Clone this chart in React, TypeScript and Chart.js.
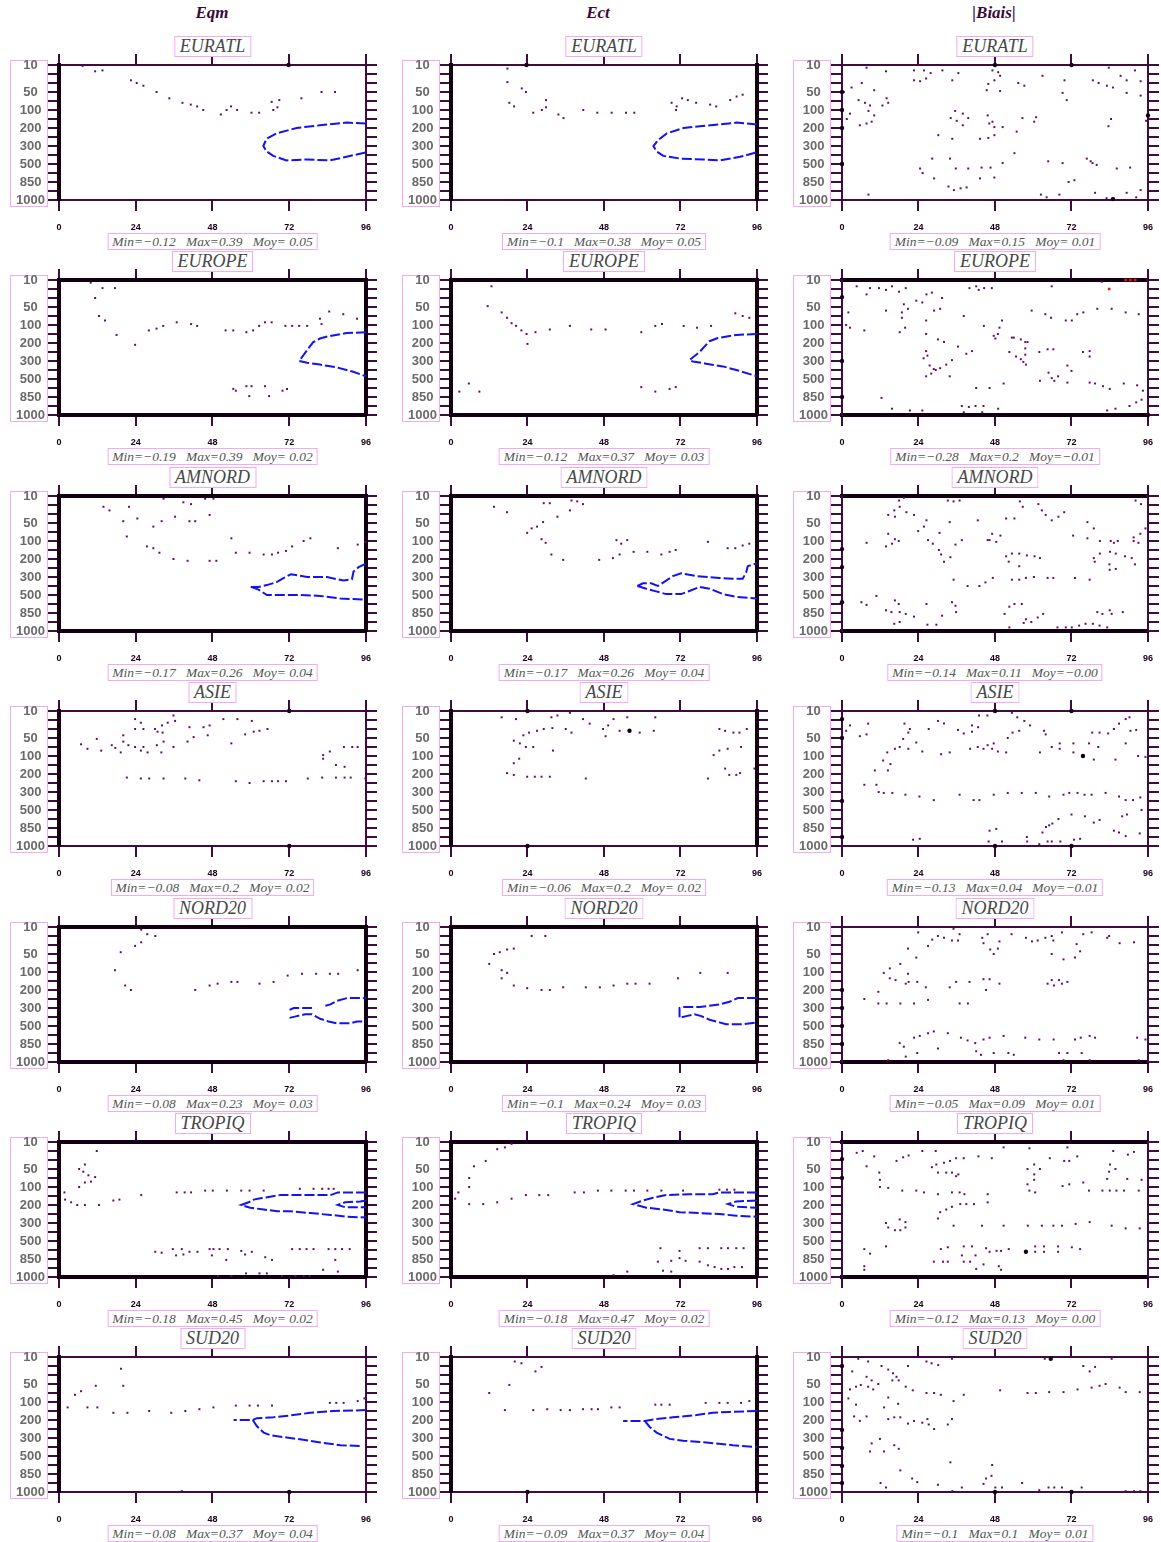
import React, { useEffect, useRef } from 'react';
import { Chart, registerables } from 'chart.js';

Chart.register(...registerables);

// ---------- axes / labels ----------
const LEVELS = [10, 20, 30, 50, 70, 100, 150, 200, 250, 300, 400, 500, 700, 850, 925, 1000];
const LABELED_LEVELS = [10, 50, 100, 200, 300, 500, 850, 1000];
const HOURS = [0, 24, 48, 72, 96];
const REGIONS = ['EURATL', 'EUROPE', 'AMNORD', 'ASIE', 'NORD20', 'TROPIQ', 'SUD20'];
const SCORES = ['Eqm', 'Ect', '|Biais|'];

const MIN_VALUES = [
  ['\u22120.12', '\u22120.1', '\u22120.09'],
  ['\u22120.19', '\u22120.12', '\u22120.28'],
  ['\u22120.17', '\u22120.17', '\u22120.14'],
  ['\u22120.08', '\u22120.06', '\u22120.13'],
  ['\u22120.08', '\u22120.1', '\u22120.05'],
  ['\u22120.18', '\u22120.18', '\u22120.12'],
  ['\u22120.08', '\u22120.09', '\u22120.1'],
];
const MAX_VALUES = [
  ['0.39', '0.38', '0.15'],
  ['0.39', '0.37', '0.2'],
  ['0.26', '0.26', '0.11'],
  ['0.2', '0.2', '0.04'],
  ['0.23', '0.24', '0.09'],
  ['0.45', '0.47', '0.13'],
  ['0.37', '0.37', '0.1'],
];
const MOY_VALUES = [
  [' 0.05', ' 0.05', ' 0.01'],
  [' 0.02', ' 0.03', '\u22120.01'],
  [' 0.04', ' 0.04', '\u22120.00'],
  [' 0.02', ' 0.02', '\u22120.01'],
  [' 0.03', ' 0.03', ' 0.01'],
  [' 0.02', ' 0.02', ' 0.00'],
  [' 0.04', ' 0.04', ' 0.01'],
];

// ---------- data: [hour, level index] ----------
const EURATL_EQM_DOTS = [[7.4,0.1],[11.3,0.7],[13.6,0.6],[22.5,1.7],[24.3,2.0],[26.4,2.3],[30.5,3.0],[34.5,3.7],[38.6,4.2],[41.2,4.4],[43.2,4.6],[45.1,5.0],[50.6,5.5],[52.4,5.0],[53.8,4.6],[55.7,5.0],[60.2,5.3],[62.6,5.3],[66.5,4.1],[67,5.0],[68.3,4.7],[68.9,3.9],[75.8,3.7],[82.1,3.0],[86.3,3.0]];
const EURATL_EQM_LINES = [[[96,6.5],[89.9,6.4],[81.6,6.7],[74.3,7.0],[68,7.6],[64.9,8.2],[63.9,9.0],[64.9,9.6],[67,10.1],[71.1,10.6],[77.4,10.5],[84.7,10.6],[89.9,10.2],[96,9.7]]];
const EURATL_EQM_EDGE = [[71.8,0]];

const EURATL_ECT_DOTS = [[17.7,0.4],[17.7,1.9],[22.2,2.6],[23.5,3.0],[18.3,4.2],[19.8,4.6],[25.8,5.3],[28.5,5.0],[29.8,4.7],[29.8,3.9],[33.7,5.5],[35.3,5.9],[41.5,5.0],[45.9,5.3],[50.4,5.3],[54.9,5.3],[57.5,5.3],[69.2,4.2],[70.8,4.6],[70.6,5.0],[72.5,3.7],[74.3,3.9],[76.9,4.2],[81.3,4.4],[83.2,4.6],[87.6,3.9],[89.6,3.5],[91.5,3.3]];
const EURATL_ECT_LINES = [[[96,6.6],[89.6,6.4],[84.4,6.6],[78.1,6.8],[73,7.0],[67.7,7.6],[65.1,8.3],[63.5,9.0],[64.5,9.6],[66.6,10.1],[71.9,10.4],[79.2,10.5],[84.4,10.6],[90.7,10.2],[96,9.7]]];
const EURATL_ECT_EDGE = [[23.7,0]];

const EURATL_BIAIS_DOTS = [[7.7,0.3],[13.8,0.7],[22.6,0.6],[25.7,0.6],[27.8,0.9],[31.5,0.6],[36.5,0.9],[47.2,0.6],[49,0.8],[49.6,1.2],[22.6,1.7],[24.5,1.8],[26.4,1.5],[34.6,1.7],[47.8,1.7],[45.9,2.1],[6.2,2.0],[3,2.5],[10.1,2.8],[0.6,3.0],[45.4,2.8],[49.6,2.9],[55.3,2.0],[57.2,2.3],[62.9,1.2],[69.8,1.7],[78.7,1.7],[80.5,2.0],[83.1,2.3],[85,2.5],[87.4,1.2],[89.3,1.7],[91.9,0.6],[93.7,1.8],[93.7,3.4],[89.3,3.1],[83.7,0.3],[69.2,3.1],[70.5,3.9],[5.2,3.9],[7.2,4.2],[8.8,4.5],[14,3.7],[14.5,4.2],[12.7,4.5],[8.3,5.1],[10.1,5.6],[2.5,5.4],[1.5,6.0],[5.6,6.7],[7.7,6.5],[9.3,6.3],[35.5,5.1],[37.9,5.4],[36,6.2],[37.9,6.7],[34.1,5.9],[39.6,5.9],[46.2,6.5],[47.2,6.3],[45.7,5.6],[47.8,6.9],[50.4,6.9],[56.6,5.9],[60.9,5.8],[60.3,6.3],[30.2,7.8],[34.6,8.2],[43.3,8.2],[45.9,8.1],[47.8,7.8],[54.8,7.4],[83.6,6.8],[84.4,6.0],[95.4,6.2],[54.1,9.8],[50.4,10.9],[28.3,10.4],[33.9,10.4],[24.5,11.5],[25.3,12.0],[35.7,11.5],[39.6,11.5],[43.8,11.4],[46.6,11.4],[28.9,12.6],[43.3,12.6],[47.8,12.5],[64.7,10.7],[69.2,10.9],[76.8,10.4],[78,10.7],[78.6,10.9],[79.9,11.1],[86.2,11.5],[90.4,11.4],[71.1,13.0],[72.9,12.8],[33.4,13.5],[35.1,13.9],[37.2,13.7],[39.1,13.6],[8.3,14.4],[62.4,14.4],[64.2,14.7],[68.2,14.4],[79.4,14.2],[83,14.8],[85.1,14.8],[89.3,14.2],[92.3,14.7],[93.7,13.9]];
const EURATL_BIAIS_LINES = [];
const EURATL_BIAIS_EDGE = [[0,3],[0,5],[0,7],[0,11],[48,0],[72,0],[96,5.6],[85,14.9]];

const EUROPE_EQM_DOTS = [[9.9,0.3],[11.3,2.0],[13.6,0.9],[17.5,0.9],[12.5,4.0],[14.4,4.5],[18,6.1],[23.8,7.2],[28.1,5.6],[30.5,5.4],[32.6,5.1],[36.8,4.7],[41.3,4.9],[43.2,5.1],[52.1,5.6],[54.5,5.6],[58.6,5.8],[60.7,5.6],[62.6,5.1],[64.4,4.7],[66.5,4.7],[70.8,5.1],[72.9,5.1],[75.1,5.1],[77.6,5.1],[81.6,4.3],[82.1,4.9],[84.5,3.5],[88.9,3.8],[93.2,4.3],[54.5,12.1],[55.3,12.3],[58.6,11.8],[60.2,11.8],[59.5,12.9],[64.4,11.8],[65.7,12.9],[69.9,12.3],[71.3,12.1]];
const EUROPE_EQM_LINES = [[[96,5.8],[89.9,5.9],[84.2,6.25],[81.6,6.5],[79.5,6.9],[78.4,7.4],[75.1,9.0],[77.6,9.2],[81.6,9.4],[86.8,9.7],[92,10.2],[96,10.7]]];
const EUROPE_EQM_EDGE = [];

const EUROPE_ECT_DOTS = [[12.7,0.7],[11.5,2.9],[15.9,3.6],[17.6,4.2],[19,4.8],[20.4,5.1],[22.1,5.6],[23.7,6.0],[24,7.1],[26.5,5.8],[31,5.5],[37.3,5.1],[44,5.5],[48.5,5.5],[59.7,5.8],[64.1,5.1],[66.2,4.9],[73,5.1],[77.2,5.3],[81.6,5.1],[89.2,3.7],[91.5,4.0],[93.6,4.2],[2.6,12.4],[5.6,11.5],[8.9,12.4],[59.7,11.9],[64.1,12.4],[68.6,12.1],[70.5,11.9]];
const EUROPE_ECT_LINES = [[[96,6.0],[89.5,6.1],[83.7,6.45],[81.1,6.8],[79.5,7.4],[78,8.0],[74.8,8.9],[75.9,9.05],[80,9.3],[85.3,9.6],[90.5,10.1],[96,10.7]]];
const EUROPE_ECT_EDGE = [[0,12.0]];

const EUROPE_BIAIS_DOTS = [[4.6,0.7],[8.8,0.9],[7.7,1.6],[11.6,0.9],[13.8,1.1],[15.7,0.7],[17.9,1.3],[20,0.9],[2,3.6],[1.3,5.0],[2.5,5.3],[7,5.6],[13.8,3.4],[19.4,2.7],[20.7,3.2],[18.8,3.6],[18.8,4.2],[19.8,5.3],[18.1,5.8],[23.3,2.3],[25.2,2.5],[26.5,1.6],[28.2,1.4],[31.4,2.0],[30.8,3.2],[28.9,3.4],[26.4,4.5],[26.4,6.0],[30.1,6.6],[32,6.9],[36.4,7.4],[26.4,7.9],[26.8,8.4],[25.6,8.7],[27.5,9.5],[28.8,9.9],[29.4,10.0],[30.8,9.8],[32.7,9.4],[34.5,8.9],[28,10.4],[26.4,10.7],[33.8,10.7],[39,8.2],[40.8,7.9],[38.2,4.0],[40,0.9],[42.1,0.7],[42.9,1.1],[44.6,0.9],[47,0.9],[44.5,5.1],[47.6,6.2],[48.1,6.5],[48.9,6.0],[49.4,5.3],[50.2,4.5],[50.7,11.5],[42.1,12.0],[46.3,12.0],[53.3,6.4],[53.9,6.4],[52.5,8.0],[54.6,8.5],[56.1,6.6],[57.5,6.9],[58.2,6.9],[57.5,7.6],[57.5,8.3],[56.9,9.1],[57.7,9.4],[56.1,8.8],[61.9,8.0],[64.5,7.7],[66.3,7.7],[59.5,3.4],[63.8,3.8],[65.6,4.2],[65.8,0.7],[70.2,4.5],[72.1,4.5],[73.8,3.8],[75.7,3.6],[80.1,3.2],[84.6,3.2],[89,3.6],[93.1,3.8],[81.5,0.2],[62.1,11.2],[64.8,10.3],[65.8,10.9],[66.6,11.2],[67.8,10.7],[70.7,9.5],[72,10.1],[70.7,11.4],[75.6,8.0],[77.7,7.9],[77.7,8.5],[77.7,11.4],[79.4,11.5],[81.9,11.8],[84,12.1],[88.4,11.5],[92.6,11.7],[94.4,12.3],[12.4,13.1],[15.7,14.3],[21.3,14.5],[25.2,14.5],[37.6,14.0],[38.2,14.7],[39.8,14.1],[41.9,14.0],[44,14.7],[44.4,14.0],[49,14.3],[83.2,14.5],[85.8,14.3],[90.2,14.0],[92.3,13.6],[94,13.3]];
const EUROPE_BIAIS_LINES = [];
const EUROPE_BIAIS_EDGE = [[0,1.9],[0,9.0],[0,13.0],[96,15]];
const EUROPE_BIAIS_RED = [[83.8,1.0],[89,0],[90.5,0],[92,0]];

const AMNORD_EQM_DOTS = [[13.9,1.2],[15.8,1.6],[21.9,1.2],[20.1,2.8],[24.5,2.5],[29.5,3.4],[32.1,2.8],[36.3,2.3],[32.7,0.3],[38.9,0.7],[41.3,0.9],[45.7,0.3],[48.3,0.3],[47.1,2.1],[40.8,2.8],[42.6,2.8],[21.2,4.5],[27.5,5.6],[29.5,5.8],[31.4,6.3],[35.8,7.0],[40.2,7.2],[47.1,7.2],[49.2,7.2],[53.9,4.7],[55.3,6.3],[59.6,6.3],[64,6.5],[66.6,6.5],[68.5,6.3],[71,6.1],[72.9,5.6],[76.5,5.0],[78.6,4.7],[87.2,5.8],[93.4,5.4],[95.8,5.1]];
const AMNORD_EQM_LINES = [
  [[60,10.1],[62.4,10.1],[65,9.9],[68.2,9.55],[70.3,9.1],[72.5,8.7],[77.6,9.0],[83.8,9.0],[89,9.4],[91.6,9.25],[92.1,8.4],[93.7,7.9],[96,7.5]],
  [[60,10.1],[62.4,10.4],[65,11.0],[69.2,11.0],[75.5,11.0],[81.7,11.1],[88,11.4],[96,11.5]],
];
const AMNORD_EQM_EDGE = [];

const AMNORD_ECT_DOTS = [[13.5,1.2],[17.6,1.8],[29.1,0.8],[31,0.8],[37.8,0.5],[39.6,0.6],[41.4,0.9],[37.3,1.6],[33.4,2.3],[28.9,2.9],[27,3.4],[25.3,3.6],[23.9,4.1],[28.4,4.8],[29.7,5.2],[31.5,6.5],[35.2,7.1],[46.5,7.1],[50.8,6.9],[52.9,6.5],[51.9,4.9],[53.4,5.3],[55.3,4.9],[57.3,6.2],[61.6,6.2],[66,6.5],[68.6,6.2],[70.5,6.0],[80.6,5.1],[86.8,5.8],[89.2,5.8],[91.5,5.5],[93.6,5.3]];
const AMNORD_ECT_LINES = [
  [[58.5,10],[60.2,9.7],[62.8,9.7],[64.9,10],[67.5,9.4],[69.6,8.9],[72.2,8.6],[77,8.9],[84.2,9.1],[88.4,9.2],[91.5,9.2],[92.6,8.5],[93.1,7.8],[94.7,7.6],[96,7.5]],
  [[58.5,10],[61.3,10.3],[64.4,10.6],[67.5,10.9],[72.2,10.9],[74.8,10.55],[78,10.1],[81.1,10.3],[85.3,10.9],[89.5,11.2],[96,11.4]],
];
const AMNORD_ECT_EDGE = [];

const AMNORD_BIAIS_DOTS = [[17.9,0.5],[19.4,0.2],[14.5,2.1],[16.4,1.6],[16.6,2.3],[18.1,1.2],[20.2,1.8],[22.6,2.1],[26.5,2.7],[25.7,3.4],[23.9,3.9],[14.5,4.2],[15.7,5.3],[13.8,5.6],[16.6,4.8],[17.8,5.0],[7.7,5.2],[27,4.9],[28.5,5.3],[30.4,6.0],[31.1,6.5],[32,7.3],[34,6.8],[30.6,4.1],[33.8,2.9],[33.2,0.5],[35,0.6],[36.9,0.5],[35.6,5.4],[37.6,4.9],[42.6,2.7],[35,9.3],[39.4,10.0],[43.1,10.0],[45,9.6],[47.3,9.1],[45.7,4.9],[46.3,4.9],[47.1,4.2],[48.4,5.1],[49.7,4.4],[51.5,2.5],[54.1,2.5],[51.5,6.7],[53.3,6.4],[52.3,7.3],[55.6,6.4],[58,6.6],[60.4,6.7],[62.1,6.9],[55.6,7.8],[53.3,9.3],[55.6,9.3],[57.7,9.1],[60.2,9.0],[64.5,9.1],[66.3,9.1],[73.1,9.1],[77.7,9.3],[55.8,0.6],[56.7,1.2],[61.6,0.9],[62.7,1.6],[63.9,2.1],[65.8,2.7],[67.9,2.3],[69.7,1.8],[72.5,4.4],[77,2.9],[79,3.6],[77,4.7],[80.9,5.0],[84.3,5.0],[85.3,5.2],[86.5,5.0],[84.1,6.2],[85.9,6.4],[88.8,6.7],[90.9,6.9],[91.9,7.6],[80.9,6.4],[79,6.9],[79.3,7.3],[83.9,7.6],[84,8.2],[85.9,8.1],[91.5,5.0],[93,5.2],[91.5,4.6],[93.6,4.2],[95.2,3.6],[92.1,0.5],[93.8,0.9],[6.1,11.8],[7.7,12.1],[10.8,11.1],[13.8,12.7],[16.6,11.6],[17.8,12.0],[15.5,12.9],[18.1,12.9],[20,13.1],[22.6,13.4],[18.1,14.0],[16.4,14.2],[26.5,12.0],[26.8,14.3],[29.6,14.3],[31.4,13.3],[34.5,11.8],[35.6,12.2],[35.8,12.9],[51,13.1],[52.5,12.3],[54.1,12.0],[56.4,12.0],[57.7,13.7],[57,14.1],[59.4,14.0],[61.4,13.5],[63.1,13.1],[52.5,14.6],[67.6,14.6],[70.2,14.6],[72.1,14.6],[74.4,14.4],[76.4,14.2],[78.7,14.2],[80.8,14.4],[83.2,14.6],[80.1,12.9],[81.7,13.1],[84,12.7],[84.6,13.1],[88.1,12.9]];
const AMNORD_BIAIS_LINES = [];
const AMNORD_BIAIS_EDGE = [[0,5.9],[0,7.9],[0,11.8]];

const ASIE_EQM_DOTS = [[6.9,3.7],[8.9,4.2],[11.8,3.1],[13.2,4.4],[16.5,3.8],[17.6,4.1],[19.3,4.6],[20.1,2.7],[20.1,3.4],[21.7,3.8],[23.8,0.9],[25.6,1.3],[23.8,2.0],[26.4,2.0],[23.8,4.0],[25.6,4.4],[26.4,4.0],[27.7,4.6],[30,2.0],[30.8,2.3],[32.4,2.4],[32.7,3.4],[30.6,3.8],[32,4.6],[32.2,1.6],[34,1.3],[35.8,0.5],[36.3,1.1],[35.8,4.0],[40.2,3.4],[40.8,1.8],[42.1,2.9],[45.2,1.8],[46.5,2.7],[47.1,1.6],[51.4,0.9],[55.8,0.9],[60.3,1.1],[58.2,2.6],[60.9,2.3],[62.7,2.2],[65.2,2.0],[53.9,3.6],[21.2,7.4],[25.6,7.5],[28.2,7.5],[32.7,7.5],[39.5,7.5],[43.9,7.7],[55.3,7.8],[59.6,8.0],[64,7.8],[66.6,7.8],[68.5,7.8],[71,7.8],[77.8,7.5],[82.3,7.4],[86.6,7.4],[89.3,7.4],[91.2,7.4],[95.8,7.5],[82.6,4.9],[82.6,5.3],[84.7,4.5],[86.6,6.0],[89.3,6.2],[89.1,4.0],[91.7,4.0],[93.4,4.0]];
const ASIE_EQM_LINES = [];
const ASIE_EQM_EDGE = [[72,0],[72,15]];

const ASIE_ECT_DOTS = [[15.9,0.7],[20.4,0.9],[31.5,0.7],[33.4,0.5],[37.3,0.2],[41.4,0.9],[43.5,1.4],[51,0.9],[55.3,0.7],[64.1,0.7],[49.3,1.6],[47.7,2.0],[48.5,2.8],[52.9,2.2],[59.2,2.4],[63.6,2.2],[36,2.0],[37.8,2.4],[31.8,1.9],[29.1,2.0],[27,2.2],[24.5,2.4],[22.7,2.7],[19.7,3.3],[21.6,3.6],[23.5,4.0],[25.8,4.0],[32,4.4],[21.4,5.3],[19.7,5.8],[17.6,6.9],[19.7,7.1],[23.9,7.3],[26.3,7.3],[28.4,7.3],[31,7.3],[42.3,7.5],[80.6,7.5],[84.2,2.0],[86,2.2],[88.6,2.4],[90.5,2.4],[92.8,2.0],[82.4,4.9],[84.2,4.4],[86.8,4.2],[91,4.0],[86,6.4],[87.3,7.1],[89.5,7.1],[90.7,6.9],[95.2,6.4]];
const ASIE_ECT_LINES = [];
const ASIE_ECT_EDGE = [[24,0],[24,15],[56,2.2]];

const ASIE_BIAIS_DOTS = [[1.3,2.2],[2.5,1.6],[5.6,2.8],[7.7,2.6],[8.2,1.4],[10.3,6.6],[10.8,8.2],[7,8.2],[11.5,9.0],[13.1,9.1],[15.8,9.1],[19.9,9.3],[24.3,9.5],[28.8,9.9],[36.9,9.3],[41.3,9.9],[43.1,9.9],[47.6,9.3],[52,9.1],[56.4,9.1],[60.8,9.1],[65,9.5],[69.5,9.3],[71.3,9.1],[73.9,9.1],[76.1,9.3],[78.3,9.3],[82.7,9.1],[86.9,9.5],[89,9.9],[91.3,9.9],[93.6,9.6],[94,11.0],[12.9,5.5],[14.2,4.6],[15.2,5.9],[14.4,6.6],[16.6,4.2],[18.1,4.0],[19.2,3.1],[20.8,2.4],[21.3,2.0],[19.6,1.4],[20.8,4.2],[23.3,3.5],[25.2,4.5],[27.2,2.0],[30.1,1.1],[32,1.4],[31.1,4.8],[33.8,4.6],[36.4,2.1],[38.2,2.5],[40.8,1.6],[40.8,2.3],[42.7,1.8],[43,0.5],[45.6,0.5],[40.2,4.2],[42.6,4.0],[44.4,4.2],[45.7,3.8],[47.1,4.2],[47.6,3.6],[48.9,4.5],[51.5,4.6],[52,3.0],[53.5,2.4],[55.6,2.2],[53.3,0.2],[55,0.7],[57.2,1.1],[59,1.6],[63.4,2.2],[63.9,2.6],[62.1,4.6],[65.8,4.0],[68.3,3.6],[68.3,4.2],[72.6,3.6],[72.6,4.6],[77.5,3.6],[78.5,2.4],[79,5.4],[80.4,4.0],[80.8,2.4],[83.5,2.5],[85.8,5.4],[85.3,2.0],[86.9,1.4],[89,0.9],[90.2,0.7],[90.5,2.2],[89,3.6],[92.3,2.1],[92.9,5.0],[95.2,5.1],[22.3,14.3],[24.4,14.2],[46.3,13.3],[48.4,13.1],[46,14.5],[50.2,14.5],[58,14.0],[58.1,14.5],[61.9,14.8],[62.9,13.5],[64,12.9],[64.5,14.5],[65,12.7],[66,12.5],[67.9,12.0],[65.8,14.5],[68.5,14.5],[72.8,14.3],[74.7,14.2],[72,11.5],[76.2,11.7],[79,12.4],[80.8,12.1],[85.3,13.3],[86.9,13.5],[89,13.9],[87.9,11.7],[89.4,11.5],[93.4,13.6]];
const ASIE_BIAIS_LINES = [];
const ASIE_BIAIS_EDGE = [[0,0.9],[0,3.0],[0,10.0],[0,14.0],[48,0],[72,0],[48,15],[72,15],[75.6,5.0]];

const NORD20_EQM_DOTS = [[25.7,0.3],[27.6,0.8],[30.1,1.0],[23.8,2.1],[25.7,1.7],[19.3,2.8],[17.5,4.8],[20.7,6.5],[22.5,7.0],[42.6,7.0],[47.1,6.5],[49.6,6.3],[53.9,6.1],[55.8,6.1],[62.7,6.3],[67.1,6.1],[71.5,5.4],[76,5.2],[80.4,5.2],[84.7,5.2],[87.3,5.2],[93.4,4.8]];
const NORD20_EQM_LINES = [
  [[72.1,9.2],[73.4,9.0],[79.1,9.0]],
  [[83.3,8.75],[84.9,8.6],[86.9,8.2],[90.1,7.9],[96,7.9]],
  [[72.1,10.1],[74.4,9.9],[77,9.7],[79.1,9.7],[81.7,10.2],[84.3,10.5],[86.9,10.7],[91.1,10.7],[93.2,10.5],[96,10.5]],
];
const NORD20_EQM_EDGE = [];

const NORD20_ECT_DOTS = [[25.3,1.0],[29.6,1.0],[19.7,2.4],[17.6,2.5],[15.3,2.8],[13.5,3.0],[12,4.1],[15.9,4.8],[17.6,5.1],[15.9,5.7],[19.7,6.5],[23.9,6.8],[28.4,7.0],[31,7.0],[35.2,6.7],[42.3,6.7],[46.7,6.7],[51,6.5],[55.3,6.3],[57.9,6.3],[62.3,6.3],[71.2,5.7],[78.2,5.1],[86.8,5.1]];
const NORD20_ECT_LINES = [[[96,7.9],[90,7.9],[87.4,8.3],[84.2,8.6],[78,8.9],[72.7,8.9],[71.7,9.0],[71.7,10.1],[73.8,9.9],[76.4,9.7],[78.5,9.9],[81.1,10.3],[84.2,10.6],[86.3,10.8],[91.5,10.8],[96,10.6]]];
const NORD20_ECT_EDGE = [];

const NORD20_BIAIS_DOTS = [[23.9,0.6],[27,2.1],[28.3,1.4],[30.1,1.0],[32,1.2],[35,0.2],[34.5,1.5],[36.4,1.5],[36.9,0.8],[44,1.2],[44.4,1.8],[45.7,0.8],[46.5,2.5],[47.6,3.0],[48.9,2.4],[49.4,1.6],[53.2,0.8],[57.7,1.2],[59.6,1.6],[61.4,1.5],[63.8,1.2],[65.8,1.0],[66.3,1.5],[65.8,3.0],[69,0.6],[69.5,3.6],[73.1,3.4],[73.6,1.9],[74.7,2.7],[75.7,0.8],[78.3,0.6],[83.2,1.2],[83.8,1.0],[87.1,1.8],[91.6,1.7],[20.7,2.4],[23.3,3.4],[18.3,4.1],[13.1,5.1],[15,4.6],[15,5.7],[16.8,5.9],[20.7,5.2],[20,6.3],[20.9,6.1],[23.6,6.1],[26.3,6.7],[33.8,6.7],[35.8,6.1],[40,6.1],[45.2,7.0],[44.4,5.8],[46.3,5.8],[49.4,6.3],[64.5,6.3],[65.8,5.9],[66.5,6.5],[68.1,5.9],[69,6.3],[70.7,6.1],[11.4,7.2],[7,8.0],[11.4,8.5],[14,8.5],[18.3,8.5],[22.6,8.5],[27,8.1],[36.9,8.5],[39.5,8.5],[18.1,12.9],[19.4,13.3],[20,14.4],[22.6,12.3],[24.4,12.1],[27,11.8],[28.8,11.6],[30.1,13.5],[33.2,11.8],[37.3,12.3],[39.4,12.6],[41.8,12.9],[42.1,13.8],[43.6,14.2],[44.4,12.5],[46.3,12.3],[47.6,14.0],[50.7,12.1],[52.2,14.0],[53.9,14.2],[57.5,12.3],[61.9,12.5],[66.4,12.5],[68.1,14.0],[70.7,14.0],[73.1,12.5],[74.9,12.3],[75.2,14.0],[77.7,12.1],[79.4,12.3],[92.6,12.3],[95.2,12.5],[23.6,14.0],[14.5,14.8],[69.5,14.8],[77.7,14.8],[93.1,14.8]];
const NORD20_BIAIS_LINES = [];
const NORD20_BIAIS_EDGE = [[0,7.0],[0,9.0],[0,11.0],[0,13.0]];

const TROPIQ_EQM_DOTS = [[11.8,1.0],[6.3,3.0],[7.6,3.3],[8.1,2.5],[9.2,3.7],[11.3,3.9],[10,4.4],[8.1,4.5],[6.3,5.0],[1.7,5.6],[1.9,6.4],[3.8,6.7],[5.7,7.0],[8.1,7.0],[12.5,7.0],[17,6.5],[18.9,6.4],[25.7,5.9],[36.8,5.6],[39.3,5.6],[41.3,5.6],[45.7,5.4],[48.1,5.4],[52.5,5.4],[57,5.4],[59.6,5.4],[64,5.4],[75.3,5.2],[79.6,5.2],[82.3,5.2],[84.3,5.2],[85.9,5.2],[30.1,12.2],[32.1,12.3],[35.6,11.9],[36.6,12.6],[38.4,11.9],[38.9,12.5],[40.8,12.2],[43.3,12.2],[47.1,11.9],[47.8,12.6],[48.3,11.9],[50.2,11.9],[52.8,11.9],[52.3,13.1],[57,12.1],[58.2,12.5],[60.3,12.2],[64.5,12.8],[66.6,13.1],[72.9,11.9],[75.3,11.9],[77.4,11.9],[79.6,11.9],[84.3,11.9],[86.4,11.9],[88.5,11.9],[90.9,11.9],[95.6,11.9],[86.4,13.1],[82.6,14.2],[87.2,14.4],[49.7,14.9],[53.9,14.9],[58.5,14.6],[62.7,14.6],[65,14.6],[69.7,14.9],[73.9,14.9],[76.5,14.9],[78.4,14.9]];
const TROPIQ_EQM_LINES = [
  [[96,5.6],[87.2,5.6],[84.9,5.9],[75.5,5.9],[69.2,5.9],[65.6,6.1],[63,6.25],[60.9,6.4],[59.3,6.7],[57,7.0],[59.8,7.3],[64,7.5],[68.3,7.7],[72.3,7.7],[78.6,7.9],[84.9,8.1],[90.1,8.3],[96,8.4]],
  [[96,6.5],[94.2,6.6],[89.5,6.7],[87.2,7.0],[89.5,7.25],[96,7.25]],
];
const TROPIQ_EQM_EDGE = [];

const TROPIQ_ECT_DOTS = [[14.5,0.8],[16.9,0.6],[19,0.2],[10.9,2.1],[7.2,2.7],[5.7,4.0],[5.7,5.0],[2.3,5.6],[1.3,6.3],[5.7,6.9],[10.1,6.9],[14.5,6.7],[19,6.3],[23.5,5.9],[27.7,5.9],[30.5,5.9],[38.8,5.6],[41.7,5.6],[46.1,5.4],[50.3,5.4],[54.8,5.4],[57.4,5.4],[61.6,5.4],[66,5.4],[72.8,5.4],[84.2,5.3],[86.6,5.3],[88.9,5.3],[65.7,11.8],[71.7,12.1],[78,11.8],[80.6,11.8],[84.8,11.8],[86.9,11.8],[89.5,11.8],[91.8,11.8],[64.9,13.3],[69.1,13.2],[71.7,12.9],[73.6,13.2],[78,13.3],[80.6,13.7],[82.7,13.9],[84.8,14.1],[86.9,14.1],[88.9,13.9],[91.3,13.9],[66.5,14.3],[69.1,14.4],[51,14.8],[55.3,14.4]];
const TROPIQ_ECT_LINES = [
  [[96,5.6],[84.2,5.6],[82.1,5.8],[74.8,5.8],[67.5,5.9],[63.4,6.2],[60.2,6.5],[57.1,6.9],[61.3,7.3],[66.5,7.5],[71.7,7.8],[78,7.9],[84.2,8.0],[89.5,8.2],[96,8.3]],
  [[96,6.5],[89.5,6.6],[86.9,6.9],[89.5,7.2],[96,7.3]],
];
const TROPIQ_ECT_EDGE = [];

const TROPIQ_BIAIS_DOTS = [[4.6,1.2],[6.5,1.0],[10.1,1.6],[17.1,2.1],[19.2,1.7],[20.9,1.5],[25.2,1.0],[29.4,1.0],[7.7,2.7],[11.7,3.4],[11.9,4.2],[11.9,5.0],[14.5,5.1],[18.9,5.4],[23.3,5.4],[25.7,5.6],[28.2,2.8],[29.6,2.5],[32,2.3],[33.9,2.1],[35.8,1.8],[38.2,1.8],[42.8,1.6],[47,1.8],[30.1,3.4],[32.7,3.4],[34.5,3.4],[35.8,3.8],[36.5,3.6],[30.1,5.8],[34.5,5.6],[36.9,5.6],[38.4,5.8],[45.7,5.8],[45.7,6.7],[37.1,6.9],[39,6.9],[41.4,6.9],[34.5,7.2],[32.7,7.5],[30.8,7.8],[30.1,8.5],[50.7,0.6],[58.8,0.7],[58.2,3.0],[60.3,2.5],[62.1,3.0],[60.3,3.6],[60.3,4.2],[58.2,4.7],[58.8,5.4],[60.6,5.6],[65.2,1.8],[69.7,2.1],[71.3,2.1],[70.7,0.6],[73.8,1.6],[69.2,4.9],[71.3,4.7],[75.7,4.5],[77.5,5.4],[81.7,5.4],[84,5.4],[86.1,5.4],[88.5,5.4],[93.1,5.4],[83.2,4.1],[83.8,3.3],[85.8,3.0],[84.1,2.5],[85.1,1.0],[89.7,1.4],[91.6,1.1],[89.5,4.1],[94,4.2],[13.8,9.0],[14.5,9.5],[16.6,9.8],[18.3,9.8],[18.1,8.6],[19.9,8.9],[19.9,9.5],[35,9.3],[43.9,9.3],[50.7,9.3],[58.3,9.3],[62.7,9.3],[66.3,9.3],[69,9.3],[73.3,9.1],[77.7,8.9],[84.6,9.3],[89,9.6],[93.4,9.6],[7,11.9],[8.8,12.4],[13.8,11.6],[7,13.8],[7,14.2],[28.8,13.3],[31,11.9],[31.7,13.3],[33.2,11.7],[33.2,13.3],[37.6,12.6],[38.2,11.6],[38.2,13.3],[40.2,13.3],[40.8,11.6],[41.9,12.6],[42.1,14.1],[44.4,13.6],[45.2,11.8],[46.3,12.2],[48.5,12.1],[49.9,12.1],[52.3,11.9],[49.2,13.8],[49.9,14.2],[60.6,11.6],[60.6,12.2],[63.4,11.6],[63.4,12.2],[67.8,11.6],[67.8,12.2],[72.1,11.7],[74.7,11.9]];
const TROPIQ_BIAIS_LINES = [];
const TROPIQ_BIAIS_EDGE = [[0,1.9],[0,4.0],[57.7,12.2]];

const SUD20_EQM_DOTS = [[19.4,1.3],[20.1,3.2],[11.5,3.2],[6.9,3.8],[5,4.2],[2.7,5.6],[8.9,5.6],[12,5.6],[17,6.2],[21.4,6.2],[28.2,6.0],[35.1,6.2],[39.5,6.0],[43.9,5.8],[48.3,5.6],[55.3,5.4],[59.6,5.4],[62.2,5.4],[66.6,5.4],[84.7,5.1],[86.7,5.1],[89,5.1],[93.4,4.9],[95.5,4.6],[38.4,14.9]];
const SUD20_EQM_LINES = [
  [[96,5.9],[85.9,6.0],[78.6,6.2],[72.3,6.5],[67.1,6.7],[61.9,6.8],[60.6,7.0],[54.6,7.0]],
  [[60.6,7.0],[61.9,7.7],[64,8.4],[66.1,8.7],[70.3,8.9],[74.4,9.1],[81.7,9.5],[88,9.8],[94.3,9.9]],
];
const SUD20_EQM_EDGE = [[72,15]];

const SUD20_ECT_DOTS = [[20,0.5],[22.1,0.7],[26.5,1.6],[28.4,1.1],[18.3,3.1],[12,4.0],[16.9,5.9],[25.8,5.9],[30.2,5.8],[34.4,5.9],[37.3,5.9],[41.4,5.8],[44.1,5.8],[46.1,5.8],[50.3,5.6],[52.9,5.6],[64.1,5.3],[66,5.3],[68.6,5.3],[79.9,5.1],[84.2,5.1],[86.8,5.1],[91,5.1],[93.6,4.9]];
const SUD20_ECT_LINES = [
  [[96,6.0],[87.4,6.1],[82.1,6.2],[77,6.45],[69.6,6.7],[64.4,6.9],[60.8,7.1],[54,7.1]],
  [[60.8,7.1],[62.4,7.8],[64.5,8.4],[68.6,9.1],[72.8,9.3],[80.1,9.5],[88.4,9.8],[96,10.0]],
];
const SUD20_ECT_EDGE = [[24,15]];

const SUD20_BIAIS_DOTS = [[5.1,0.2],[8.2,0.5],[3.2,1.6],[7.7,2.2],[9.3,2.6],[11.4,3.0],[9.8,3.6],[8.2,3.3],[5.9,3.1],[4.4,3.3],[2.5,3.6],[2,4.6],[4.4,5.3],[3.8,6.6],[5.6,7.1],[7.7,6.6],[12.4,1.0],[14.5,1.4],[16,1.8],[17.1,2.2],[15.8,2.6],[17.8,2.6],[20,3.3],[22.2,3.7],[20.7,1.0],[26.5,0.5],[28.1,0.7],[30.2,0.9],[34.5,0.2],[14.5,4.5],[13.2,5.6],[17.6,5.2],[14.5,6.9],[16.4,6.7],[18.3,6.7],[20.7,7.4],[22.6,7.1],[25.2,7.3],[26.8,6.9],[27.2,7.5],[28.9,8.0],[26.5,4.0],[28.9,4.0],[31,4.2],[35,4.9],[38.2,4.2],[34.5,6.9],[33.2,7.5],[9.3,9.6],[8.8,10.5],[11.9,9.1],[13.2,10.5],[16.4,9.8],[17.8,10.2],[18.3,12.6],[22,13.5],[23.6,13.9],[12.1,14.0],[13.8,14.5],[34,11.7],[30.1,14.2],[34.6,14.9],[37.6,14.5],[44.4,14.1],[45.2,13.5],[46.9,13.2],[47.1,12.0],[48.1,14.5],[50.2,14.5],[49.6,3.7],[56.5,14.0],[58.2,4.0],[60.8,4.0],[61.9,14.8],[63.6,0.2],[65,3.9],[64.8,14.5],[66.6,14.5],[69,14.5],[69.5,3.9],[73.9,3.6],[75.2,14.5],[75.7,1.0],[77.7,1.6],[79.4,1.1],[78.3,3.4],[80.8,3.2],[82.7,3.0],[84.6,0.2],[87.1,3.4],[89,3.9],[93.4,3.9],[89,14.9],[91.6,14.9],[93.6,14.9]];
const SUD20_BIAIS_LINES = [];
const SUD20_BIAIS_EDGE = [[0,1.0],[0,8.1],[0,10.1],[0,12.1],[0,14.0],[48,15],[72,15],[65.5,0.2]];

const PANELS = [
  [{ dots: EURATL_EQM_DOTS, lines: EURATL_EQM_LINES, edge: EURATL_EQM_EDGE }, { dots: EURATL_ECT_DOTS, lines: EURATL_ECT_LINES, edge: EURATL_ECT_EDGE }, { dots: EURATL_BIAIS_DOTS, lines: EURATL_BIAIS_LINES, edge: EURATL_BIAIS_EDGE }],
  [{ dots: EUROPE_EQM_DOTS, lines: EUROPE_EQM_LINES, edge: EUROPE_EQM_EDGE }, { dots: EUROPE_ECT_DOTS, lines: EUROPE_ECT_LINES, edge: EUROPE_ECT_EDGE }, { dots: EUROPE_BIAIS_DOTS, lines: EUROPE_BIAIS_LINES, edge: EUROPE_BIAIS_EDGE, red: EUROPE_BIAIS_RED }],
  [{ dots: AMNORD_EQM_DOTS, lines: AMNORD_EQM_LINES, edge: AMNORD_EQM_EDGE }, { dots: AMNORD_ECT_DOTS, lines: AMNORD_ECT_LINES, edge: AMNORD_ECT_EDGE }, { dots: AMNORD_BIAIS_DOTS, lines: AMNORD_BIAIS_LINES, edge: AMNORD_BIAIS_EDGE }],
  [{ dots: ASIE_EQM_DOTS, lines: ASIE_EQM_LINES, edge: ASIE_EQM_EDGE }, { dots: ASIE_ECT_DOTS, lines: ASIE_ECT_LINES, edge: ASIE_ECT_EDGE }, { dots: ASIE_BIAIS_DOTS, lines: ASIE_BIAIS_LINES, edge: ASIE_BIAIS_EDGE }],
  [{ dots: NORD20_EQM_DOTS, lines: NORD20_EQM_LINES, edge: NORD20_EQM_EDGE }, { dots: NORD20_ECT_DOTS, lines: NORD20_ECT_LINES, edge: NORD20_ECT_EDGE }, { dots: NORD20_BIAIS_DOTS, lines: NORD20_BIAIS_LINES, edge: NORD20_BIAIS_EDGE }],
  [{ dots: TROPIQ_EQM_DOTS, lines: TROPIQ_EQM_LINES, edge: TROPIQ_EQM_EDGE }, { dots: TROPIQ_ECT_DOTS, lines: TROPIQ_ECT_LINES, edge: TROPIQ_ECT_EDGE }, { dots: TROPIQ_BIAIS_DOTS, lines: TROPIQ_BIAIS_LINES, edge: TROPIQ_BIAIS_EDGE }],
  [{ dots: SUD20_EQM_DOTS, lines: SUD20_EQM_LINES, edge: SUD20_EQM_EDGE }, { dots: SUD20_ECT_DOTS, lines: SUD20_ECT_LINES, edge: SUD20_ECT_EDGE }, { dots: SUD20_BIAIS_DOTS, lines: SUD20_BIAIS_LINES, edge: SUD20_BIAIS_EDGE }],
];

// ---------- layout / style ----------
const COL_X = [59, 451, 842];
const COL_W = [307, 306, 306];
const ROW_Y = [65, 280, 496, 711, 927, 1142, 1357];
const PLOT_H = 135;
const HEADER_X = [212, 598, 994];
const FRAMES = [
  ['l', 'lr', ''],
  ['tlrb', 'tlrb', 'tb'],
  ['tlrb', 'tlrb', 'tb'],
  ['l', 'lr', ''],
  ['tlrb', 'tlrb', 'b'],
  ['tlrb', 'tlrb', 'tb'],
  ['l', 'lr', ''],
];
const LEFT_W = 52;
const RIGHT_W = 16;
const TOP_H = 12;
const BOTTOM_H = 33;
const PINK = '#f3a9f3';
const TICK_COLOR = '#3e0c3e';

const toXY = (arr: number[][]) => arr.map(([x, y]) => ({ x, y }));

function Panel({ r, c }: { r: number; c: number }) {
  const ref = useRef<HTMLCanvasElement>(null);
  useEffect(() => {
    const p: any = PANELS[r][c];
    const fr = FRAMES[r][c];
    const bw = (s: string) => (fr.includes(s) ? 4 : 2);
    const bc = (s: string) => (fr.includes(s) ? '#120012' : '#3e0c3e');
    const datasets: any[] = [];
    p.lines.forEach((line: number[][]) => {
      datasets.push({
        data: toXY(line), showLine: true, borderColor: '#1212f2', borderWidth: 2,
        borderDash: [10, 3], pointRadius: 0, clip: false, order: 3,
      });
    });
    datasets.push({
      data: toXY(p.dots), showLine: false, pointStyle: 'rect', pointRadius: 1.4,
      backgroundColor: '#640a64', borderWidth: 0, clip: false, order: 2,
    });
    if (p.red) {
      datasets.push({
        data: toXY(p.red), showLine: false, pointStyle: 'rect', pointRadius: 1.8,
        backgroundColor: '#ee1111', borderWidth: 0, clip: false, order: 1,
      });
    }
    datasets.push({
      data: toXY(p.edge), showLine: false, pointStyle: 'circle', pointRadius: 2.2,
      backgroundColor: '#140014', borderWidth: 0, clip: false, order: 1,
    });
    const levelTicks = (s: any) => { s.ticks = LEVELS.map((_, i) => ({ value: i })); };
    const hourTicks = (s: any) => { s.ticks = HOURS.map((v) => ({ value: v })); };
    const grid = {
      display: true, drawOnChartArea: false, drawTicks: true, tickLength: 11,
      tickWidth: 2, tickColor: TICK_COLOR, color: TICK_COLOR, lineWidth: 2,
    };
    const chart = new Chart(ref.current as HTMLCanvasElement, {
      type: 'scatter',
      data: { datasets },
      options: {
        responsive: false,
        animation: false,
        devicePixelRatio: 1,
        events: [],
        layout: { padding: 0 },
        plugins: { legend: { display: false }, tooltip: { enabled: false }, title: { display: false } },
        scales: {
          x: {
            type: 'linear', position: 'bottom', min: 0, max: 96,
            afterBuildTicks: hourTicks,
            afterFit: (s: any) => { s.height = BOTTOM_H; },
            ticks: {
              autoSkip: false, maxRotation: 0, padding: 11, color: '#1a001a',
              font: { family: 'Liberation Sans', size: 9, weight: 'bold' },
              callback: (v: any) => String(v),
            },
            grid,
            border: { display: true, color: bc('b'), width: bw('b') },
          },
          x2: {
            type: 'linear', position: 'top', min: 0, max: 96,
            afterBuildTicks: hourTicks,
            afterFit: (s: any) => { s.height = TOP_H; },
            ticks: { display: false },
            grid,
            border: { display: true, color: bc('t'), width: bw('t') },
          },
          y: {
            type: 'linear', position: 'left', min: 0, max: 15, reverse: true,
            afterBuildTicks: levelTicks,
            afterFit: (s: any) => { s.width = LEFT_W; },
            ticks: {
              autoSkip: false, padding: 3, crossAlign: 'center', color: '#6a6a6a',
              font: { family: 'Liberation Sans', size: 13, weight: 'bold' },
              callback: (v: any) => {
                const lv = LEVELS[Math.round(Number(v))];
                return LABELED_LEVELS.includes(lv) ? String(lv) : '';
              },
            },
            grid,
            border: { display: true, color: bc('l'), width: bw('l') },
          },
          y2: {
            type: 'linear', position: 'right', min: 0, max: 15, reverse: true,
            afterBuildTicks: levelTicks,
            afterFit: (s: any) => { s.width = RIGHT_W; },
            ticks: { display: false },
            grid,
            border: { display: true, color: bc('r'), width: bw('r') },
          },
        },
      } as any,
    });
    return () => chart.destroy();
  }, [r, c]);

  const x = COL_X[c];
  const y = ROW_Y[r];
  const w = COL_W[c];
  const cx = x + w / 2;
  return (
    <>
      <div style={{ position: 'absolute', left: x - 49, top: y - 5, width: 36, height: PLOT_H + 10, border: `1px solid ${PINK}` }} />
      <canvas
        ref={ref}
        width={LEFT_W + w + RIGHT_W}
        height={TOP_H + PLOT_H + BOTTOM_H}
        style={{ position: 'absolute', left: x - LEFT_W, top: y - TOP_H, width: LEFT_W + w + RIGHT_W, height: TOP_H + PLOT_H + BOTTOM_H }}
      />
      <div style={{
        position: 'absolute', left: cx, top: y - 29, height: 19, lineHeight: '19px', transform: 'translateX(-50%)',
        border: `1px solid ${PINK}`, padding: '0 5px', background: '#fff', whiteSpace: 'nowrap',
        fontFamily: '"Liberation Serif", serif', fontStyle: 'italic', fontSize: 18, color: '#474747',
      }}>{REGIONS[r]}</div>
      <div style={{
        position: 'absolute', left: cx, top: y + PLOT_H + 33, height: 15, lineHeight: '15px', transform: 'translateX(-50%)',
        border: `1px solid ${PINK}`, padding: '0 4px', background: '#fff', whiteSpace: 'pre',
        fontFamily: '"Liberation Serif", serif', fontStyle: 'italic', fontSize: 13.5, color: '#555555',
      }}>{`Min=${MIN_VALUES[r][c]}   Max=${MAX_VALUES[r][c]}   Moy=${MOY_VALUES[r][c]}`}</div>
    </>
  );
}

export default function App() {
  return (
    <div style={{ position: 'absolute', left: 0, top: 0, width: 1161, height: 1542, background: '#fff', overflow: 'hidden' }}>
      {SCORES.map((s, i) => (
        <div key={s} style={{
          position: 'absolute', left: HEADER_X[i], top: 3, transform: 'translateX(-50%)', whiteSpace: 'nowrap',
          fontFamily: '"Liberation Serif", serif', fontStyle: 'italic', fontWeight: 'bold', fontSize: 17, color: '#3a0a3a',
        }}>{s}</div>
      ))}
      {REGIONS.map((_, r) => [0, 1, 2].map((c) => <Panel key={`${r}-${c}`} r={r} c={c} />))}
    </div>
  );
}
